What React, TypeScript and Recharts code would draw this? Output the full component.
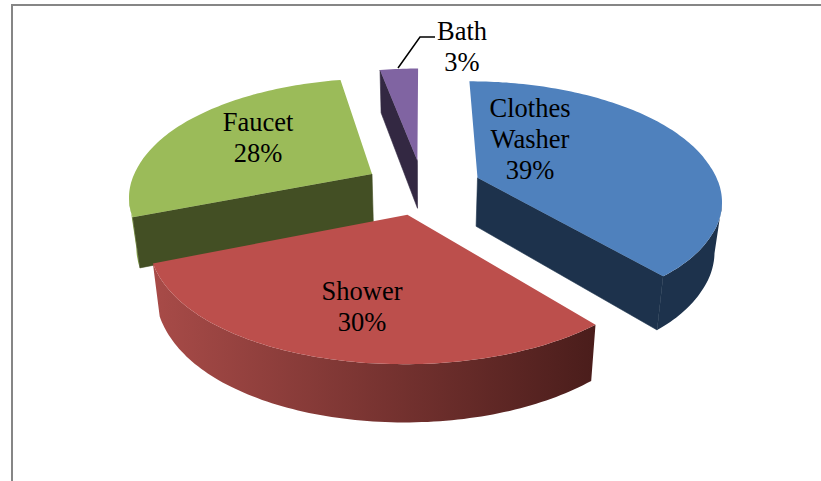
import React from 'react'
import { Pie, PieChart } from 'recharts'

// drawn back to front, so the pie starts at Faucet instead of Clothes Washer
const categories = ['Faucet', 'Bath', 'Clothes Washer', 'Shower']
const shares = [28, 3, 39, 30]
const topColors = ['#9BBB59', '#8064A2', '#4F81BD', '#BC4F4C']
const wallColors = ['#434F24', '#332842', '#1D324C', '#4A1D1B']
const rimColors = [
  ['#7F9C48', '#93B254'],
  ['#332842', '#332842'],
  ['#1D324C', '#1D324C'],
  ['#A84B48', '#4A1D1B'],
]
const labelAnchors = [
  [258, 122],
  [462, 31],
  [530, 108],
  [362, 291],
]

const chartData = categories.map((name, i) => ({ name, value: shares[i], index: i }))

// the slices before Faucet in clockwise order are Clothes Washer and Shower
const firstAngle = 90 - ((shares[2] + shares[3]) / 100) * 360

const TILT = 0.4656
const PERSPECTIVE_X = 0.175
const PERSPECTIVE_Y = 0.163
const EXPLODE = 0.239
const EDGE_SQUEEZE = 0.015

function project(cx: number, cy: number, radius: number, x: number, y: number) {
  const dx = (radius * x) / (1 - PERSPECTIVE_X * y)
  const u = y / (1 - PERSPECTIVE_Y * y)
  const squeeze = 1 - EDGE_SQUEEZE * Math.min(1, (dx / 290) ** 4)
  return { x: cx + dx * squeeze, y: cy + radius * TILT * u, u }
}

function drop(pt: { x: number; y: number; u: number }, cx: number) {
  return { x: cx + (pt.x - cx) * 0.975, y: pt.y + 49 + 6 * pt.u }
}

const toPath = (pts: { x: number; y: number }[]) =>
  'M' + pts.map((p) => `${p.x.toFixed(1)} ${p.y.toFixed(1)}`).join('L') + 'Z'

function Slice3D(props: any) {
  const { cx, cy, outerRadius, startAngle, endAngle, payload } = props
  const i = payload.index
  const t0 = ((90 - startAngle) * Math.PI) / 180
  const t1 = ((90 - endAngle) * Math.PI) / 180
  const mid = (t0 + t1) / 2
  const ox = EXPLODE * Math.sin(mid)
  const oy = -EXPLODE * Math.cos(mid)
  const at = (x: number, y: number) => project(cx, cy, outerRadius, x + ox, y + oy)

  const apex = at(0, 0)
  const rim = []
  const steps = Math.max(4, Math.ceil(Math.abs(t1 - t0) / 0.02))
  for (let s = 0; s <= steps; s++) {
    const t = t0 + ((t1 - t0) * s) / steps
    rim.push(at(Math.sin(t), -Math.cos(t)))
  }

  // the outline runs clockwise, so an edge going left faces down the screen.
  // nearly vertical edges are seen end on and get no wall
  const walls: React.ReactNode[] = []
  const wall = (a: any, b: any, key: string) => {
    if (b.x - a.x >= -0.2 * Math.abs(b.y - a.y)) return
    walls.push(
      <path
        key={key}
        d={toPath([a, b, drop(b, cx), drop(a, cx)])}
        fill={wallColors[i]}
        stroke={wallColors[i]}
        strokeWidth={0.6}
      />,
    )
  }
  wall(apex, rim[0], 'start')
  wall(rim[rim.length - 1], apex, 'end')

  const visible = rim.filter((_, s) => {
    const a = rim[Math.max(0, s - 1)]
    const b = rim[Math.min(rim.length - 1, s + 1)]
    return b.x - a.x < 0
  })
  const gradId = `rim-${i}`

  return (
    <g>
      <defs>
        <linearGradient
          id={gradId}
          gradientUnits="userSpaceOnUse"
          x1={visible[visible.length - 1]?.x ?? 0}
          x2={visible[0]?.x ?? 1}
          y1="0"
          y2="0"
        >
          <stop offset="0" stopColor={rimColors[i][0]} />
          <stop offset="1" stopColor={rimColors[i][1]} />
        </linearGradient>
      </defs>
      {visible.length > 1 && (
        <path d={toPath([...visible, ...visible.map((p) => drop(p, cx)).reverse()])} fill={`url(#${gradId})`} />
      )}
      {walls}
      <path d={toPath([apex, ...rim])} fill={topColors[i]} />
    </g>
  )
}

function SliceLabel(props: any) {
  const { name, percent, index } = props
  const [x, y] = labelAnchors[index]
  const lines = [...name.split(' '), `${Math.round(percent * 100)}%`]
  return (
    <g>
      {name === 'Bath' && <path d="M435 37H420L398 68" fill="none" stroke="#000" strokeWidth={1.5} />}
      <text
        x={x}
        y={y}
        textAnchor="middle"
        dominantBaseline="central"
        fontFamily="'Liberation Serif'"
        fontSize={26.5}
        fill="#000"
      >
        {lines.map((line: string, k: number) => (
          <tspan key={k} x={x} dy={k === 0 ? 0 : 31}>
            {line}
          </tspan>
        ))}
      </text>
    </g>
  )
}

export default function App() {
  return (
    <div style={{ position: 'fixed', left: 0, top: 0, width: 821, height: 481, background: '#fff', overflow: 'hidden' }}>
      <div
        style={{
          position: 'absolute',
          left: 11,
          top: 4,
          right: 0,
          bottom: -4,
          borderLeft: '2px solid #868686',
          borderTop: '2px solid #868686',
        }}
      />
      <div style={{ position: 'absolute', left: 0, top: 0 }}>
        <PieChart width={821} height={481} margin={{ top: 0, right: 0, bottom: 0, left: 0 }}>
          <Pie
            data={chartData}
            dataKey="value"
            nameKey="name"
            cx={422.7}
            cy={187}
            innerRadius={0}
            outerRadius={247}
            startAngle={firstAngle}
            endAngle={firstAngle - 360}
            stroke="none"
            shape={Slice3D}
            label={SliceLabel}
            labelLine={false}
            isAnimationActive={false}
          />
        </PieChart>
      </div>
    </div>
  )
}
